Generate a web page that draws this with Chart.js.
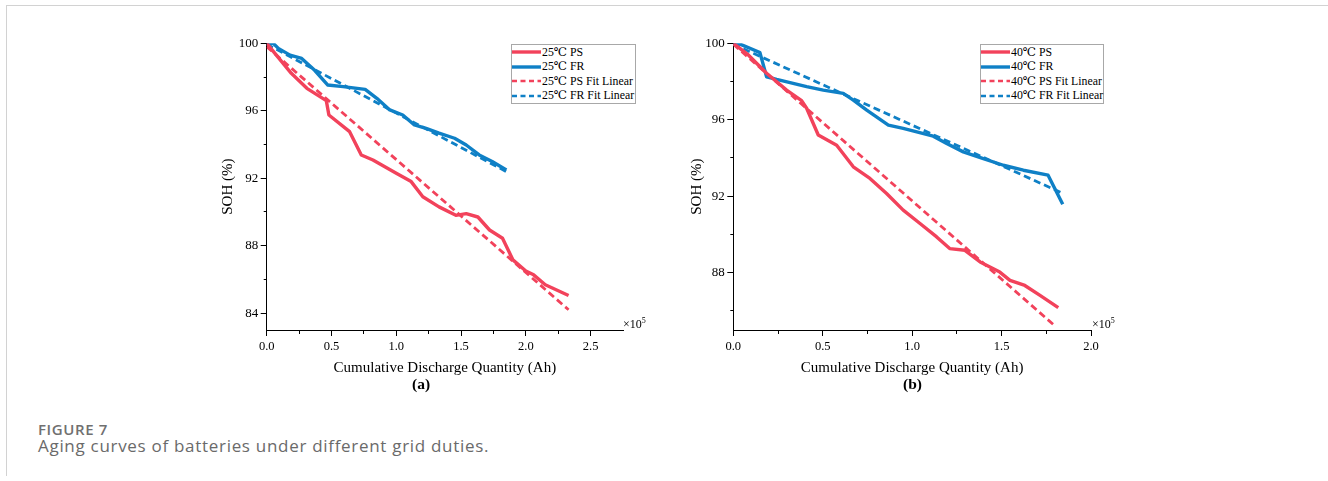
<!DOCTYPE html>
<html><head><meta charset="utf-8">
<script src="https://cdn.jsdelivr.net/npm/chart.js@4/dist/chart.umd.min.js"></script>
<style>
html,body{margin:0;padding:0;background:#fff;width:1328px;height:481px;overflow:hidden;}
body{position:relative;font-family:"Liberation Serif","DejaVu Serif",serif;}
.card{position:absolute;left:6px;top:5px;width:1330px;height:470px;border-left:1px solid #d2d2d2;border-top:1px solid #d2d2d2;}
canvas{position:absolute;top:0;}
.legend{position:absolute;border:1px solid #a8a8a8;background:#fff;font-family:"Liberation Serif","DejaVu Serif",serif;font-size:11.8px;color:#000;box-sizing:border-box;}
.legend .row{height:14.5px;display:flex;align-items:center;white-space:pre;}
.legend svg{display:block;flex:none;margin-right:1px;}
.mult{position:absolute;font-size:12px;color:#000;white-space:nowrap;}
.mult sup{font-size:8px;vertical-align:5px;}
.sub{position:absolute;font-weight:bold;font-size:15.5px;color:#000;}
.fig{position:absolute;left:38px;top:419px;font-family:"Open Sans",sans-serif;font-weight:600;font-size:15px;letter-spacing:0.6px;color:#707070;}
.cap{position:absolute;left:38px;top:434px;font-family:"Open Sans",sans-serif;font-size:17px;letter-spacing:0.7px;color:#6a6a6a;}
</style></head>
<body>
<div class="card"></div>
<canvas id="ca" width="460" height="400" style="left:200px"></canvas>
<canvas id="cb" width="460" height="400" style="left:670px"></canvas>
<div id="lega" class="legend" style="left:511px;top:44px;width:125px;height:60px"></div>
<div id="legb" class="legend" style="left:980px;top:44px;width:124px;height:60px"></div>
<div class="mult" style="left:623px;top:316px">×10<sup>5</sup></div>
<div class="mult" style="left:1092px;top:316px">×10<sup>5</sup></div>
<div class="sub" style="left:412px;top:375px">(a)</div>
<div class="sub" style="left:903px;top:375px">(b)</div>
<div class="fig">FIGURE 7</div>
<div class="cap">Aging curves of batteries under different grid duties.</div>
<script>
// ---- data (x in units of 10^5 Ah, y = SOH %) ----
const ps25X = [0, 0.19, 0.31, 0.46, 0.48, 0.64, 0.73, 0.82, 1.0, 1.115, 1.205, 1.33, 1.46, 1.54, 1.63, 1.72, 1.82, 1.90, 2.0, 2.06, 2.15, 2.33];
const ps25Y = [100, 98.22, 97.33, 96.6, 95.75, 94.76, 93.38, 93.08, 92.3, 91.8, 90.9, 90.3, 89.8, 89.9, 89.7, 88.93, 88.44, 87.16, 86.5, 86.27, 85.68, 85.05];
const fr25X = [0, 0.05, 0.09, 0.18, 0.27, 0.37, 0.47, 0.59, 0.76, 0.85, 0.95, 1.05, 1.14, 1.23, 1.33, 1.45, 1.54, 1.64, 1.74, 1.85];
const fr25Y = [100, 100, 99.7, 99.3, 99.1, 98.4, 97.53, 97.43, 97.27, 96.74, 96.05, 95.75, 95.16, 94.96, 94.67, 94.37, 93.97, 93.38, 92.99, 92.49];
const ps25FitX = [0, 2.33];
const ps25FitY = [99.8, 84.2];
const fr25FitX = [0, 1.86];
const fr25FitY = [99.95, 92.35];

const ps40X = [0, 0.084, 0.186, 0.298, 0.382, 0.41, 0.475, 0.578, 0.671, 0.764, 0.857, 0.95, 1.044, 1.137, 1.21, 1.295, 1.38, 1.49, 1.547, 1.63, 1.715, 1.817];
const ps40Y = [100, 99.39, 98.43, 97.55, 97.0, 96.6, 95.2, 94.67, 93.54, 92.93, 92.14, 91.27, 90.57, 89.87, 89.26, 89.17, 88.56, 88.03, 87.6, 87.33, 86.81, 86.17];
const fr40X = [0, 0.037, 0.093, 0.149, 0.186, 0.242, 0.41, 0.503, 0.615, 0.671, 0.746, 0.867, 0.95, 1.118, 1.193, 1.286, 1.398, 1.51, 1.622, 1.76, 1.842];
const fr40Y = [100, 99.96, 99.74, 99.51, 98.25, 98.11, 97.73, 97.55, 97.38, 97.03, 96.5, 95.72, 95.55, 95.14, 94.76, 94.32, 93.97, 93.62, 93.36, 93.1, 91.58];
const ps40FitX = [0, 1.80];
const ps40FitY = [99.95, 85.2];
const fr40FitX = [0, 1.845];
const fr40FitY = [99.95, 92.14];

// ---- labels / ticks ----
const labelsA = ['25℃ PS', '25℃ FR', '25℃ PS Fit Linear', '25℃ FR Fit Linear'];
const labelsB = ['40℃ PS', '40℃ FR', '40℃ PS Fit Linear', '40℃ FR Fit Linear'];
const xTickLabelsA = ['0.0', '0.5', '1.0', '1.5', '2.0', '2.5'];
const xTickLabelsB = ['0.0', '0.5', '1.0', '1.5', '2.0'];
const yTickLabelsA = ['84', '88', '92', '96', '100'];
const yTickLabelsB = ['88', '92', '96', '100'];
const xMinorA = ['0.25', '0.75', '1.25', '1.75', '2.25'];
const xMinorB = ['0.25', '0.75', '1.25', '1.75'];
const yMinorA = ['86', '90', '94', '98'];
const yMinorB = ['86', '90', '94', '98'];
const xTitle = 'Cumulative Discharge Quantity (Ah)';
const yTitle = 'SOH (%)';

const RED = '#F2425B';
const BLUE = '#0F80C6';
const SERIF = '"Liberation Serif", "DejaVu Serif", serif';

const pts = (xs, ys) => xs.map((x, i) => ({x, y: ys[i]}));

function datasets(labels, ps, fr, psF, frF) {
  return [
    {label: labels[0], data: ps, borderColor: RED, borderWidth: 3.4},
    {label: labels[1], data: fr, borderColor: BLUE, borderWidth: 3.4},
    {label: labels[2], data: psF, borderColor: RED, borderWidth: 2.8, borderDash: [7, 4]},
    {label: labels[3], data: frF, borderColor: BLUE, borderWidth: 2.8, borderDash: [7, 4]}
  ];
}

function makeChart(id, ds, o) {
  const majX = o.xLabels.map(parseFloat), minX = o.xMinor.map(parseFloat);
  const majY = o.yLabels.map(parseFloat), minY = o.yMinor.map(parseFloat);
  const isMaj = (arr, v) => arr.some(a => Math.abs(a - v) < 1e-6);
  return new Chart(document.getElementById(id), {
    type: 'line',
    data: {datasets: ds},
    options: {
      responsive: false, animation: false, devicePixelRatio: 1,
      layout: {padding: {left: 10, top: 43.3, right: o.padR, bottom: 20}},
      plugins: {legend: {display: false}, tooltip: {enabled: false}},
      elements: {point: {radius: 0}, line: {tension: 0, fill: false, borderJoinStyle: 'round'}},
      scales: {
        x: {
          type: 'linear', min: 0, max: o.xMax,
          afterBuildTicks: s => { s.ticks = majX.concat(minX).sort((a, b) => a - b).map(v => ({value: v})); },
          afterFit: s => { s.height = 50; },
          border: {display: true, color: '#000', width: 1},
          grid: {display: true, drawOnChartArea: false, drawTicks: true, tickLength: 6, tickColor: '#000', tickWidth: 1,
                 tickBorderDash: c => isMaj(majX, c.tick ? c.tick.value : 0) ? [] : [3, 20]},
          ticks: {autoSkip: false, maxRotation: 0, color: '#000', padding: 3, font: {family: SERIF, size: 12.5},
                  callback: v => { const i = majX.findIndex(a => Math.abs(a - v) < 1e-6); return i >= 0 ? o.xLabels[i] : ''; }},
          title: {display: true, text: xTitle, color: '#000', font: {family: SERIF, size: 15}, padding: {top: 0, bottom: 3}}
        },
        y: {
          type: 'linear', min: o.yMin, max: 100,
          afterBuildTicks: s => { s.ticks = majY.concat(minY).sort((a, b) => a - b).map(v => ({value: v})); },
          afterFit: s => { s.width = o.yW; },
          border: {display: true, color: '#000', width: 1},
          grid: {display: true, drawOnChartArea: false, drawTicks: true, tickLength: 6, tickColor: '#000', tickWidth: 1,
                 tickBorderDash: c => isMaj(majY, c.tick ? c.tick.value : 0) ? [] : [3, 3],
                 tickBorderDashOffset: c => isMaj(majY, c.tick ? c.tick.value : 0) ? 0 : 3},
          ticks: {autoSkip: false, color: '#000', padding: 2.5, font: {family: SERIF, size: 13},
                  callback: v => { const i = majY.findIndex(a => Math.abs(a - v) < 1e-6); return i >= 0 ? o.yLabels[i] : ''; }},
          title: {display: true, text: yTitle, color: '#000', font: {family: SERIF, size: 15}, padding: {top: o.yTitlePad, bottom: 0}}
        }
      }
    }
  });
}

function buildLegend(id, chart) {
  const el = document.getElementById(id);
  chart.data.datasets.forEach(d => {
    const row = document.createElement('div');
    row.className = 'row';
    const dash = d.borderDash ? ' stroke-dasharray="5 3.5"' : '';
    row.innerHTML = '<svg width="29" height="14"><line x1="0" y1="7" x2="29" y2="7" stroke="' + d.borderColor +
      '" stroke-width="' + (d.borderDash ? 2.4 : 3.4) + '"' + dash + '/></svg><span></span>';
    row.querySelector('span').textContent = d.label;
    el.appendChild(row);
  });
}

const chartA = makeChart('ca',
  datasets(labelsA, pts(ps25X, ps25Y), pts(fr25X, fr25Y), pts(ps25FitX, ps25FitY), pts(fr25FitX, fr25FitY)),
  {xMax: 2.75, yMin: 83, padR: 37, yW: 56.7, yTitlePad: 9,
   xLabels: xTickLabelsA, xMinor: xMinorA, yLabels: yTickLabelsA, yMinor: yMinorA});
const chartB = makeChart('cb',
  datasets(labelsB, pts(ps40X, ps40Y), pts(fr40X, fr40Y), pts(ps40FitX, ps40FitY), pts(fr40FitX, fr40FitY)),
  {xMax: 2.0, yMin: 85, padR: 39, yW: 53.3, yTitlePad: 8,
   xLabels: xTickLabelsB, xMinor: xMinorB, yLabels: yTickLabelsB, yMinor: yMinorB});
buildLegend('lega', chartA);
buildLegend('legb', chartB);
</script>
</body></html>
